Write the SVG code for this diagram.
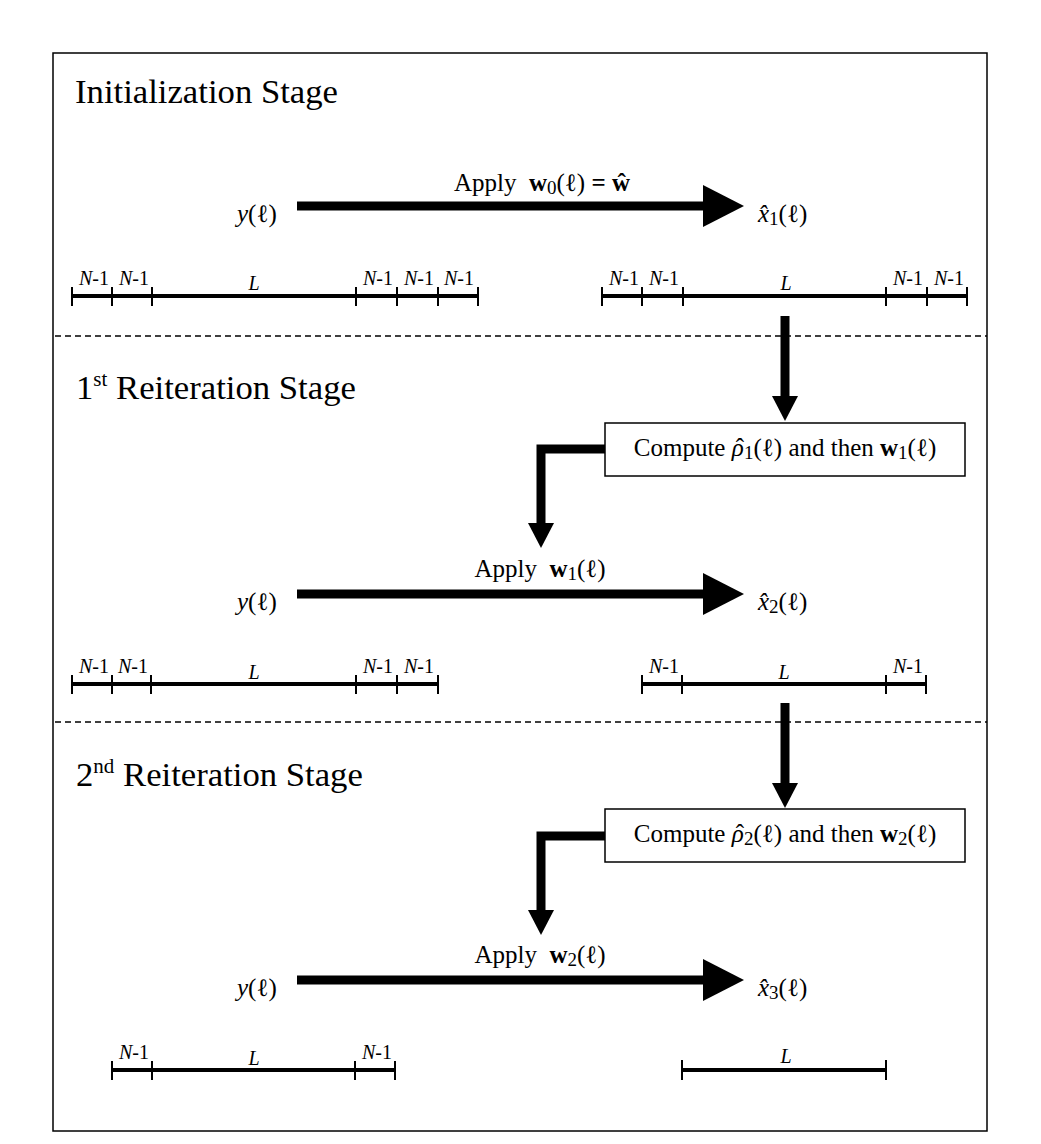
<svg xmlns="http://www.w3.org/2000/svg" width="1041" height="1144" viewBox="0 0 1041 1144">
<defs>
<style>
text{font-family:"Liberation Serif","Times New Roman",serif;fill:#000}
.stage{font-size:34.7px}
.lab{font-size:25px}
.seg{font-size:20px}
.it{font-style:italic}
.b{font-weight:bold}
.sub{font-size:19px}
.sup{font-size:21px}
.bar{stroke:#000;stroke-width:4;fill:none}
.tick{stroke:#000;stroke-width:2;fill:none}
.shaft{stroke:#000;stroke-width:9;fill:none;stroke-linejoin:miter}
.dash{stroke:#000;stroke-width:1.3;stroke-dasharray:6 4;fill:none}
.box{fill:#fff;stroke:#000;stroke-width:1.5}
</style>
<marker id="bigHead" viewBox="0 0 41 42" refX="0" refY="21" markerWidth="41" markerHeight="42" markerUnits="userSpaceOnUse" orient="auto">
<polygon points="0,0 41,21 0,42" fill="#000"/>
</marker>
<marker id="smallHead" viewBox="0 0 25 26" refX="0" refY="13" markerWidth="25" markerHeight="26" markerUnits="userSpaceOnUse" orient="auto">
<polygon points="0,0 25,13 0,26" fill="#000"/>
</marker>
</defs>
<rect x="0" y="0" width="1041" height="1144" fill="#fff"/>
<rect x="53" y="53" width="934" height="1078" fill="none" stroke="#000" stroke-width="1.5"/>
<line class="dash" x1="55" y1="336" x2="987" y2="336"/>
<line class="dash" x1="55" y1="722" x2="987" y2="722"/>

<g id="titles">
<text class="stage" x="75" y="103">Initialization Stage</text>
<text class="stage" x="76" y="399">1<tspan class="sup" dy="-13">st</tspan><tspan dy="13"> Reiteration Stage</tspan></text>
<text class="stage" x="76" y="786">2<tspan class="sup" dy="-13">nd</tspan><tspan dy="13"> Reiteration Stage</tspan></text>
</g>

<g id="connectors">
<line class="shaft" x1="297" y1="206" x2="703" y2="206" marker-end="url(#bigHead)"/>
<line class="shaft" x1="297" y1="594" x2="703" y2="594" marker-end="url(#bigHead)"/>
<line class="shaft" x1="297" y1="980" x2="703" y2="980" marker-end="url(#bigHead)"/>
<line class="shaft" x1="785" y1="316" x2="785" y2="396" marker-end="url(#smallHead)"/>
<path class="shaft" d="M605,449 H541 V523" marker-end="url(#smallHead)"/>
<line class="shaft" x1="785" y1="703" x2="785" y2="783" marker-end="url(#smallHead)"/>
<path class="shaft" d="M605,836 H541 V910" marker-end="url(#smallHead)"/>
</g>

<g id="stage0">
<text class="lab" x="237" y="222"><tspan class="it">y</tspan>(ℓ)</text>
<text class="lab" x="542" y="191" text-anchor="middle" xml:space="preserve">Apply  <tspan class="b">w</tspan><tspan class="sub" dy="3">0</tspan><tspan dy="-3">(ℓ) </tspan><tspan class="b">=</tspan> <tspan class="b">ŵ</tspan></text>
<text class="lab" x="758" y="222"><tspan class="it">x̂</tspan><tspan class="sub" dy="3">1</tspan><tspan dy="-3">(ℓ)</tspan></text>
</g>

<g id="ruler-y0">
<line class="bar" x1="72" y1="296" x2="478" y2="296"/>
<path class="tick" d="M72,287V306M112,287V306M152,287V306M356,287V306M397,287V306M438,287V306M478,287V306"/>
<text class="seg" text-anchor="middle" y="285"><tspan x="94"><tspan class="it">N</tspan>-1</tspan><tspan x="134"><tspan class="it">N</tspan>-1</tspan><tspan x="378"><tspan class="it">N</tspan>-1</tspan><tspan x="419"><tspan class="it">N</tspan>-1</tspan><tspan x="459"><tspan class="it">N</tspan>-1</tspan></text>
<text class="seg it" x="254" y="290" text-anchor="middle">L</text>
</g>

<g id="ruler-x1">
<line class="bar" x1="602" y1="296" x2="967" y2="296"/>
<path class="tick" d="M602,287V306M642,287V306M683,287V306M886,287V306M927,287V306M967,287V306"/>
<text class="seg" text-anchor="middle" y="285"><tspan x="624"><tspan class="it">N</tspan>-1</tspan><tspan x="664"><tspan class="it">N</tspan>-1</tspan><tspan x="908"><tspan class="it">N</tspan>-1</tspan><tspan x="949"><tspan class="it">N</tspan>-1</tspan></text>
<text class="seg it" x="786" y="290" text-anchor="middle">L</text>
</g>

<g id="box1">
<rect class="box" x="605" y="423" width="360" height="53"/>
<text class="lab" x="785" y="456" text-anchor="middle">Compute <tspan class="it">ρ</tspan><tspan dx="-8">ˆ</tspan><tspan class="sub" dy="3">1</tspan><tspan dy="-3">(ℓ) and then </tspan><tspan class="b">w</tspan><tspan class="sub" dy="3">1</tspan><tspan dy="-3">(ℓ)</tspan></text>
</g>

<g id="stage1">
<text class="lab" x="237" y="610"><tspan class="it">y</tspan>(ℓ)</text>
<text class="lab" x="540" y="577" text-anchor="middle" xml:space="preserve">Apply  <tspan class="b">w</tspan><tspan class="sub" dy="3">1</tspan><tspan dy="-3">(ℓ)</tspan></text>
<text class="lab" x="758" y="610"><tspan class="it">x̂</tspan><tspan class="sub" dy="3">2</tspan><tspan dy="-3">(ℓ)</tspan></text>
</g>

<g id="ruler-y1">
<line class="bar" x1="72" y1="684" x2="438" y2="684"/>
<path class="tick" d="M72,675V694M112,675V694M151,675V694M356,675V694M397,675V694M438,675V694"/>
<text class="seg" text-anchor="middle" y="673"><tspan x="94"><tspan class="it">N</tspan>-1</tspan><tspan x="133"><tspan class="it">N</tspan>-1</tspan><tspan x="378"><tspan class="it">N</tspan>-1</tspan><tspan x="419"><tspan class="it">N</tspan>-1</tspan></text>
<text class="seg it" x="254" y="679" text-anchor="middle">L</text>
</g>

<g id="ruler-x2">
<line class="bar" x1="642" y1="684" x2="926" y2="684"/>
<path class="tick" d="M642,675V694M682,675V694M886,675V694M926,675V694"/>
<text class="seg" text-anchor="middle" y="673"><tspan x="664"><tspan class="it">N</tspan>-1</tspan><tspan x="908"><tspan class="it">N</tspan>-1</tspan></text>
<text class="seg it" x="784" y="679" text-anchor="middle">L</text>
</g>

<g id="box2">
<rect class="box" x="605" y="809" width="360" height="53"/>
<text class="lab" x="785" y="842" text-anchor="middle">Compute <tspan class="it">ρ</tspan><tspan dx="-8">ˆ</tspan><tspan class="sub" dy="3">2</tspan><tspan dy="-3">(ℓ) and then </tspan><tspan class="b">w</tspan><tspan class="sub" dy="3">2</tspan><tspan dy="-3">(ℓ)</tspan></text>
</g>

<g id="stage2">
<text class="lab" x="237" y="996"><tspan class="it">y</tspan>(ℓ)</text>
<text class="lab" x="540" y="963" text-anchor="middle" xml:space="preserve">Apply  <tspan class="b">w</tspan><tspan class="sub" dy="3">2</tspan><tspan dy="-3">(ℓ)</tspan></text>
<text class="lab" x="758" y="996"><tspan class="it">x̂</tspan><tspan class="sub" dy="3">3</tspan><tspan dy="-3">(ℓ)</tspan></text>
</g>

<g id="ruler-y2">
<line class="bar" x1="112" y1="1070" x2="395" y2="1070"/>
<path class="tick" d="M112,1061V1080M152,1061V1080M355,1061V1080M395,1061V1080"/>
<text class="seg" text-anchor="middle" y="1059"><tspan x="134"><tspan class="it">N</tspan>-1</tspan><tspan x="377"><tspan class="it">N</tspan>-1</tspan></text>
<text class="seg it" x="254" y="1065" text-anchor="middle">L</text>
</g>

<g id="ruler-x3">
<line class="bar" x1="682" y1="1070" x2="886" y2="1070"/>
<path class="tick" d="M682,1060V1080M886,1060V1080"/>
<text class="seg it" x="786" y="1063" text-anchor="middle">L</text>
</g>
</svg>
